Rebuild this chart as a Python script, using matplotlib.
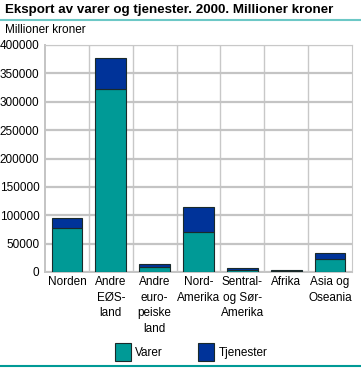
import numpy as np
import matplotlib.pyplot as plt
from matplotlib.patches import Patch
from matplotlib.lines import Line2D

plt.rcParams['font.family'] = ['Liberation Sans', 'DejaVu Sans']

categories = ['Norden', 'Andre\nEØS-\nland', 'Andre\neuro-\npeiske\nland', 'Nord-\nAmerika',
              'Sentral-\nog Sør-\nAmerika', 'Afrika', 'Asia og\nOseania']
varer = [78000, 322000, 9300, 70000, 4000, 1800, 23400]
tjenester = [17700, 55600, 5300, 44000, 2500, 1700, 10100]

teal = '#009a96'
navy = '#003399'

fig = plt.figure(figsize=(3.61, 3.68), dpi=100)
ax = fig.add_axes([45 / 361, 1 - 272 / 368, 307 / 361, 227 / 368])

x = np.arange(len(categories))
ax.bar(x, varer, width=0.7, color=teal, edgecolor='#1a2a2a', linewidth=0.8, zorder=3)
ax.bar(x, tjenester, bottom=varer, width=0.7, color=navy, edgecolor='#1a2a2a', linewidth=0.8, zorder=3)

ax.set_xlim(-0.5, len(categories) - 0.5)
ax.set_ylim(0, 400000)
ax.set_yticks(np.arange(0, 400001, 50000))
ax.set_yticklabels([str(v) for v in range(0, 400001, 50000)], fontsize=8.5)
ax.set_xticks(x)
ax.set_xticklabels(categories, fontsize=8.5, linespacing=1.4, va='top')
ax.tick_params(length=0, pad=3)
ax.tick_params(axis='y', pad=4)
for xb in np.arange(0.5, len(categories) - 0.5, 1):
    ax.axvline(xb, color='#c8c8c8', linewidth=1, zorder=1)
ax.grid(axis='y', color='#c4c4c4', linewidth=1.6, zorder=1)
for s in ['top', 'right']:
    ax.spines[s].set_color('#c8c8c8')
for s in ['left', 'bottom']:
    ax.spines[s].set_color('#c4c4c4')
    ax.spines[s].set_linewidth(1.4)

fig.text(5 / 361, 1 - 10 / 368, 'Eksport av varer og tjenester. 2000. Millioner kroner',
         fontsize=9.6, fontweight='bold', va='center', ha='left')
fig.add_artist(Line2D([0, 1], [1 - 20 / 368, 1 - 20 / 368], color='#6cc8c6', linewidth=1.5))
fig.add_artist(Line2D([0, 1], [1 - 366 / 368, 1 - 366 / 368], color='#009a96', linewidth=1.5))
fig.text(5 / 361, 1 - 30 / 368, 'Millioner kroner', fontsize=8.5, va='center', ha='left')

handles = [Patch(facecolor=teal, edgecolor='#1a2a2a', linewidth=0.8, label='Varer'),
           Patch(facecolor=navy, edgecolor='#1a2a2a', linewidth=0.8, label='Tjenester')]
fig.legend(handles=handles, loc='center', bbox_to_anchor=(0.53, 1 - 352 / 368), ncol=2,
           frameon=False, fontsize=8.5, handlelength=1.3, handleheight=2.0,
           handletextpad=0.4, columnspacing=3.0)

fig.savefig('out.png', dpi=100)
